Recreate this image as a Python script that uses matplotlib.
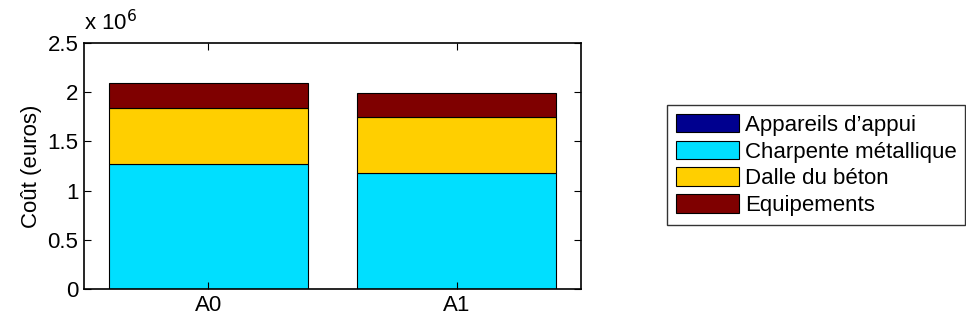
import numpy as np
import matplotlib.pyplot as plt

plt.rcParams['font.family'] = ['Liberation Sans', 'DejaVu Sans']

categories = ['A0', 'A1']
series_names = ['Appareils d\u2019appui', 'Charpente métallique', 'Dalle du béton', 'Equipements']
appareils = [0.005e6, 0.005e6]
charpente = [1.263e6, 1.171e6]
dalle = [0.571e6, 0.572e6]
equipements = [0.253e6, 0.247e6]
colors = ['#00008f', '#00dfff', '#ffcf00', '#7f0000']

fig = plt.figure(figsize=(9.66, 3.27), dpi=100)
ax = fig.add_axes([84 / 966, 1 - 289 / 327, 497 / 966, 246 / 327])

x = np.arange(1, len(categories) + 1)
bottom = np.zeros(len(categories))
for vals, name, c in zip([appareils, charpente, dalle, equipements], series_names, colors):
    ax.bar(x, vals, width=0.8, bottom=bottom, color=c, edgecolor='black',
           linewidth=0.8, label=name)
    bottom += np.array(vals)

ax.set_xlim(0.5, 2.5)
ax.set_ylim(0, 2.5e6)
ax.set_xticks(x)
ax.set_xticklabels(categories)
yt = np.arange(0, 2.51, 0.5)
ax.set_yticks(yt * 1e6)
ax.set_yticklabels(['0', '0.5', '1', '1.5', '2', '2.5'])
ax.tick_params(direction='in', top=True, right=True, labelsize=16, length=5, width=0.8, pad=4)
for s in ax.spines.values():
    s.set_linewidth(1.2)
ax.set_ylabel('Coût (euros)', fontsize=16, labelpad=4)
ax.text(0.0, 1.03, r'x 10$^{6}$', transform=ax.transAxes, fontsize=16, ha='left', va='bottom')

leg = ax.legend(loc='upper left', bbox_to_anchor=(667 / 966, 1 - 105 / 327),
                bbox_transform=fig.transFigure, fontsize=16, frameon=True,
                fancybox=False, edgecolor='black', handlelength=2.85, handleheight=0.9,
                handletextpad=0.25, labelspacing=0.22, borderpad=0.4, borderaxespad=0)
leg.get_frame().set_linewidth(1.0)

fig.savefig('out.png', dpi=100)
